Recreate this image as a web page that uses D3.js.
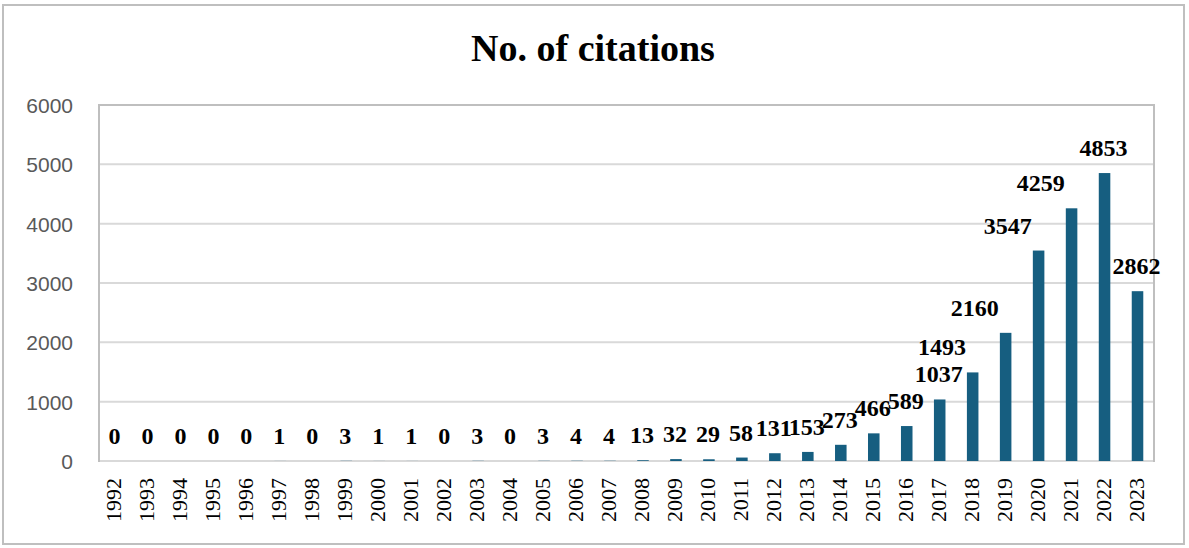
<!DOCTYPE html>
<html>
<head>
<meta charset="utf-8">
<script src="https://cdn.jsdelivr.net/npm/d3@7"></script>
<style>
  html, body { margin: 0; padding: 0; background: #fff; }
  svg { display: block; }
</style>
</head>
<body>
<svg id="chart" width="1189" height="548"></svg>
<script>
const years = ["1992","1993","1994","1995","1996","1997","1998","1999","2000","2001","2002","2003","2004","2005","2006","2007","2008","2009","2010","2011","2012","2013","2014","2015","2016","2017","2018","2019","2020","2021","2022","2023"];
const citations = [0,0,0,0,0,1,0,3,1,1,0,3,0,3,4,4,13,32,29,58,131,153,273,466,589,1037,1493,2160,3547,4259,4853,2862];
const yTicks = [0,1000,2000,3000,4000,5000,6000];
const chartTitle = "No. of citations";
// labels that were moved to the left of their bar in the original
const leftLabels = ["2018","2019","2020","2021"];

const data = years.map((y, i) => ({ year: y, value: citations[i] }));

const svg = d3.select("#chart");
const m = { left: 99, right: 1154, top: 105, bottom: 461 };

svg.append("rect").attr("x", 3).attr("y", 5).attr("width", 1181).attr("height", 539)
  .attr("fill", "#fff").attr("stroke", "#bfbfbf").attr("stroke-width", 2);

svg.append("text").attr("x", 593).attr("y", 61).attr("text-anchor", "middle")
  .attr("font-family", "'Liberation Serif','Times New Roman',serif")
  .attr("font-weight", "bold").attr("font-size", 38).attr("fill", "#000")
  .text(chartTitle);

const x = d3.scaleBand().domain(years).range([m.left, m.right])
  .paddingInner(0.65).paddingOuter(0.325);
const y = d3.scaleLinear().domain([0, 6000]).range([m.bottom, m.top]);

// gridlines
svg.append("g").selectAll("line").data(yTicks.filter(t => t > 0 && t < 6000)).join("line")
  .attr("x1", m.left).attr("x2", m.right)
  .attr("y1", d => y(d)).attr("y2", d => y(d))
  .attr("stroke", "#d9d9d9").attr("stroke-width", 2);
// bottom line
svg.append("line").attr("x1", m.left).attr("x2", m.right + 1)
  .attr("y1", y(0)).attr("y2", y(0)).attr("stroke", "#d9d9d9").attr("stroke-width", 2);
// plot border left/top/right
svg.append("path")
  .attr("d", `M${m.left},${y(0) + 1}V${y(6000)}H${m.right}V${y(0) + 1}`)
  .attr("fill", "none").attr("stroke", "#bfbfbf").attr("stroke-width", 2);

// y axis
const yAxis = d3.axisLeft(y).tickValues(yTicks).tickFormat(d3.format("d")).tickSize(0).tickPadding(0);
const gy = svg.append("g").attr("transform", `translate(73,0)`).call(yAxis);
gy.select(".domain").remove();
gy.selectAll("text").attr("font-family", "'Liberation Sans',Arial,sans-serif")
  .attr("font-size", 21).attr("fill", "#595959").attr("dy", "0.36em");

// x axis
const xAxis = d3.axisBottom(x).tickSize(0).tickPadding(0);
const gx = svg.append("g").attr("transform", `translate(0,${y(0)})`).call(xAxis);
gx.select(".domain").remove();
gx.selectAll("text")
  .attr("font-family", "'Liberation Serif','Times New Roman',serif")
  .attr("font-size", 22).attr("fill", "#000")
  .attr("text-anchor", "end")
  .attr("transform", "translate(6,17) rotate(-90)")
  .attr("x", 0).attr("y", 0).attr("dy", "0");

// bars
svg.append("g").selectAll("rect").data(data).join("rect")
  .attr("x", d => x(d.year)).attr("width", x.bandwidth())
  .attr("y", d => y(d.value)).attr("height", d => y(0) - y(d.value))
  .attr("fill", "#165e80");

// labels
svg.append("g").selectAll("text").data(data).join("text")
  .attr("x", d => leftLabels.includes(d.year) ? x(d.year) - 1 : x(d.year) + x.bandwidth() / 2 - 1)
  .attr("y", d => y(d.value) - 17)
  .attr("text-anchor", d => leftLabels.includes(d.year) ? "end" : "middle")
  .attr("font-family", "'Liberation Serif','Times New Roman',serif")
  .attr("font-weight", "bold").attr("font-size", 24).attr("fill", "#000")
  .text(d => d.value);
</script>
</body>
</html>
